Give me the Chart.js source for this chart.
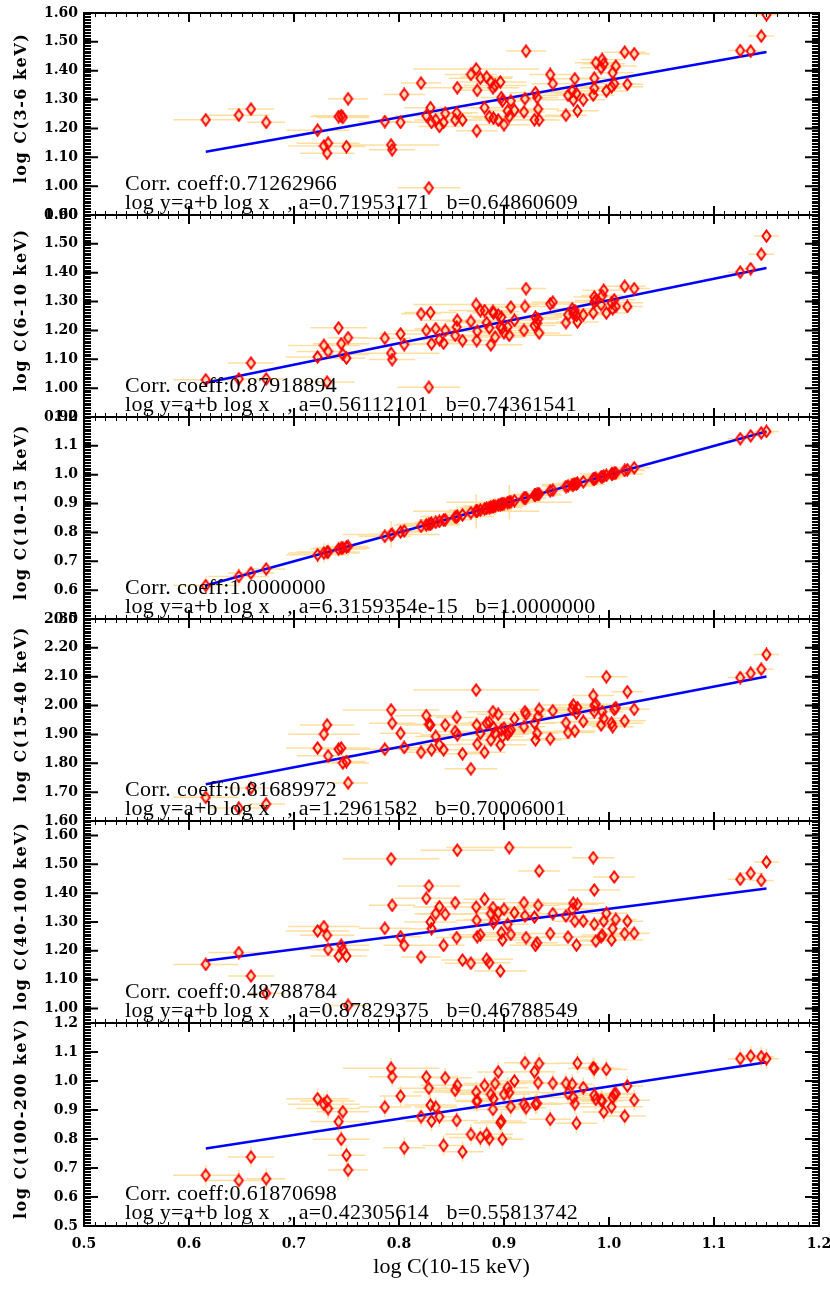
<!DOCTYPE html>
<html>
<head>
<meta charset="utf-8">
<script src="https://cdn.jsdelivr.net/npm/chart.js@4.4.0/dist/chart.umd.min.js"></script>
<style>
  body { margin: 0; background: #fff; }
  #wrap { position: relative; width: 830px; height: 1291px; overflow: hidden; }
  #wrap canvas { position: absolute; left: 0; }
</style>
</head>
<body>
<div id="wrap"></div>
<script>
// x = log C(10-15 keV), shared by all six panels
const xVals = [0.616,0.6475,0.659,0.6735,0.7225,0.7285,0.7315,0.7325,0.7425,0.745,0.7465,0.75,0.7515,
  0.7865,0.7925,0.7935,0.8015,0.805,
  0.821,0.826,0.8285,0.83,0.831,0.835,0.8385,0.8425,0.844,0.8535,0.855,0.8555,0.8605,
  0.8685,0.8735,0.874,0.8745,0.8775,0.8815,0.8835,0.886,0.8875,0.8895,0.89,0.8915,0.8945,0.8965,0.8975,0.8985,0.9,0.9035,0.905,0.9065,0.91,
  0.919,0.92,0.921,0.929,0.93,0.9315,0.9325,0.9335,
  0.944,0.9465,
  0.959,0.961,0.965,0.966,0.9675,0.969,0.97,0.9755,
  0.985,0.986,0.986,0.9875,0.9925,0.9935,0.995,0.9975,1.0025,1.0035,1.005,1.0065,
  1.015,1.0175,1.024,
  1.125,1.135,1.145,1.15];

const xErr = [0.031,0.029,0.022,0.018,0.03,0.034,0.026,0.03,0.027,0.027,0.025,0.018,0.019,
  0.025,0.046,0.022,0.02,0.02,
  0.019,0.03,0.03,0.025,0.025,0.02,0.02,0.02,0.025,0.02,0.02,0.035,0.02,
  0.025,0.06,0.02,0.02,0.03,0.02,0.025,0.02,0.03,0.025,0.02,0.03,0.02,0.025,0.02,0.02,0.025,0.02,0.06,0.02,0.025,
  0.02,0.02,0.019,0.02,0.025,0.02,0.02,0.02,
  0.02,0.02,
  0.02,0.025,0.02,0.03,0.02,0.02,0.02,0.02,
  0.02,0.025,0.02,0.02,0.02,0.02,0.02,0.02,0.03,0.02,0.02,0.02,
  0.02,0.015,0.015,
  0.012,0.012,0.012,0.012];

const y3to6 = [1.230,1.246,1.267,1.221,1.194,1.139,1.114,1.149,1.241,1.244,1.238,1.137,1.303,
  1.224,1.143,1.126,1.221,1.318,
  1.357,1.244,0.994,1.272,1.221,1.229,1.207,1.221,1.252,1.229,1.254,1.341,1.229,
  1.387,1.406,1.192,1.332,1.374,1.272,1.378,1.241,1.361,1.341,1.236,1.349,1.229,1.361,1.307,1.295,1.213,1.261,1.241,1.295,1.263,
  1.257,1.303,1.468,1.230,1.324,1.307,1.267,1.229,
  1.387,1.355,
  1.246,1.315,1.330,1.299,1.372,1.321,1.261,1.299,
  1.316,1.339,1.374,1.428,1.410,1.439,1.424,1.330,1.344,1.393,1.355,1.416,
  1.464,1.353,1.459,
  1.470,1.468,1.520,1.594];

const y6to10 = [1.029,1.032,1.087,1.032,1.108,1.148,1.021,1.127,1.209,1.154,1.117,1.104,1.175,
  1.173,1.121,1.099,1.188,1.151,
  1.258,1.200,1.003,1.262,1.154,1.206,1.168,1.156,1.200,1.183,1.212,1.235,1.165,
  1.231,1.290,1.165,1.197,1.269,1.269,1.227,1.209,1.150,1.266,1.260,1.177,1.254,1.212,1.246,1.208,1.192,1.212,1.183,1.281,1.235,
  1.200,1.283,1.345,1.217,1.246,1.225,1.240,1.191,
  1.292,1.298,
  1.227,1.254,1.275,1.258,1.269,1.252,1.229,1.254,
  1.261,1.298,1.316,1.304,1.289,1.321,1.339,1.260,1.296,1.275,1.306,1.283,
  1.353,1.283,1.345,
  1.402,1.414,1.464,1.527];

const y10to15 = [0.616,0.6475,0.659,0.6735,0.7225,0.7285,0.7315,0.7325,0.7425,0.745,0.7465,0.75,0.7515,
  0.7865,0.7925,0.7935,0.8015,0.805,
  0.821,0.826,0.8285,0.83,0.831,0.835,0.8385,0.8425,0.844,0.8535,0.855,0.8555,0.8605,
  0.8685,0.8735,0.874,0.8745,0.8775,0.8815,0.8835,0.886,0.8875,0.8895,0.89,0.8915,0.8945,0.8965,0.8975,0.8985,0.9,0.9035,0.905,0.9065,0.91,
  0.919,0.92,0.921,0.929,0.93,0.9315,0.9325,0.9335,
  0.944,0.9465,
  0.959,0.961,0.965,0.966,0.9675,0.969,0.97,0.9755,
  0.985,0.986,0.986,0.9875,0.9925,0.9935,0.995,0.9975,1.0025,1.0035,1.005,1.0065,
  1.015,1.0175,1.024,
  1.125,1.135,1.145,1.15];

const y15to40 = [1.682,1.645,1.714,1.659,1.853,1.901,1.933,1.826,1.849,1.853,1.801,1.806,1.732,
  1.849,1.985,1.939,1.904,1.855,
  1.838,1.965,1.935,1.933,1.847,1.893,1.864,1.847,1.933,1.910,1.959,1.899,1.833,
  1.781,2.054,1.933,1.866,1.904,1.838,1.939,1.942,1.881,1.979,1.924,1.904,1.970,1.864,1.916,1.893,1.922,1.901,1.910,1.916,1.954,
  1.927,1.979,1.970,1.939,1.881,1.904,1.962,1.987,
  1.885,1.982,
  1.941,1.907,1.987,2.002,1.912,1.974,1.993,1.945,
  2.035,2.000,1.979,2.005,1.933,1.979,1.956,2.100,1.939,1.927,1.987,1.993,
  1.947,2.048,1.987,
  2.097,2.112,2.126,2.177];

const y40to100 = [1.153,1.194,1.113,1.053,1.269,1.284,1.254,1.205,1.182,1.219,1.203,1.182,1.011,
  1.278,1.519,1.358,1.249,1.219,
  1.179,1.382,1.425,1.300,1.277,1.329,1.353,1.219,1.327,1.367,1.246,1.549,1.168,
  1.157,1.352,1.306,1.249,1.256,1.379,1.171,1.159,1.329,1.350,1.298,1.309,1.332,1.130,1.263,1.238,1.344,1.292,1.558,1.257,1.332,
  1.367,1.321,1.246,1.317,1.219,1.228,1.358,1.477,
  1.260,1.329,
  1.321,1.248,1.344,1.365,1.303,1.220,1.361,1.303,
  1.523,1.411,1.292,1.234,1.249,1.255,1.303,1.330,1.238,1.277,1.456,1.309,
  1.260,1.303,1.261,
  1.448,1.469,1.444,1.508];

const y100to200 = [0.675,0.657,0.738,0.663,0.939,0.920,0.931,0.905,0.860,0.799,0.894,0.744,0.693,
  0.910,1.044,1.015,0.948,0.770,
  0.877,1.014,0.975,0.917,0.862,0.910,0.877,0.778,1.011,0.968,0.864,0.985,0.756,
  0.816,0.962,0.929,0.933,0.805,0.985,0.816,0.801,0.954,0.902,0.939,0.991,1.031,0.856,0.862,0.799,0.954,0.977,0.960,0.911,1.000,
  0.920,1.063,0.908,1.032,0.920,0.923,0.994,1.060,
  0.868,0.992,
  0.992,0.957,0.989,0.943,0.922,0.854,1.061,0.977,
  1.046,1.043,0.951,0.937,0.934,0.931,0.893,1.040,0.911,0.943,0.954,0.957,
  0.879,0.983,0.934,
  1.077,1.086,1.084,1.077];

const panelSeries = [y3to6, y6to10, y10to15, y15to40, y40to100, y100to200];
const panelTitles = ['log C(3-6 keV)', 'log C(6-10 keV)', 'log C(10-15 keV)', 'log C(15-40 keV)', 'log C(40-100 keV)', 'log C(100-200 keV)'];
const yMins = [0.9, 0.9, 0.5, 1.6, 0.95, 0.5];
const yMaxs = [1.6, 1.6, 1.2, 2.3, 1.65, 1.2];
const yDigits = [2, 2, 1, 2, 2, 1];
const yErrs = [0.025, 0.02, 0.03, 0.025, 0.02, 0.035];
const corrCoeffs = ['0.71262966', '0.87918894', '1.0000000', '0.81689972', '0.48788784', '0.61870698'];
const fitA = ['0.71953171', '0.56112101', '6.3159354e-15', '1.2961582', '0.87829375', '0.42305614'];
const fitB = ['0.64860609', '0.74361541', '1.0000000', '0.70006001', '0.46788549', '0.55813742'];
const fitX = [0.616, 1.15];
const fitStartY = [1.119, 1.019, 0.616, 1.727, 1.166, 0.767];
const fitEndY = [1.465, 1.416, 1.150, 2.101, 1.416, 1.065];
const xTitle = 'log C(10-15 keV)';

// page layout
const panelEdges = [13, 215, 417, 619, 821, 1023, 1226];
const PAD = 14;
const tickFont = { family: 'DejaVu Serif', size: 14, weight: 'bold' };
const wrap = document.getElementById('wrap');

// open red diamond, a bit taller than wide
const diamond = document.createElement('canvas');
diamond.width = 11;
diamond.height = 14;
const dctx = diamond.getContext('2d');
dctx.strokeStyle = '#ff0000';
dctx.lineWidth = 2;
dctx.beginPath();
dctx.moveTo(5.5, 1.5);
dctx.lineTo(9.5, 7);
dctx.lineTo(5.5, 12.5);
dctx.lineTo(1.5, 7);
dctx.closePath();
dctx.stroke();

const errorBars = {
  id: 'errorBars',
  beforeDatasetsDraw(chart, args, opts) {
    const { ctx, chartArea: a, scales: { x, y } } = chart;
    const ys = panelSeries[opts.panel];
    const ye = yErrs[opts.panel];
    ctx.save();
    ctx.beginPath();
    ctx.rect(a.left, a.top, a.width, a.height);
    ctx.clip();
    ctx.strokeStyle = 'rgba(255, 196, 80, 0.55)';
    ctx.lineWidth = 1.5;
    ctx.beginPath();
    xVals.forEach((xv, i) => {
      const py = y.getPixelForValue(ys[i]);
      const px = x.getPixelForValue(xv);
      const yerr = opts.panel === 2 ? xErr[i] : ye;
      ctx.moveTo(x.getPixelForValue(xv - xErr[i]), py);
      ctx.lineTo(x.getPixelForValue(xv + xErr[i]), py);
      ctx.moveTo(px, y.getPixelForValue(ys[i] - yerr));
      ctx.lineTo(px, y.getPixelForValue(ys[i] + yerr));
    });
    ctx.stroke();
    ctx.restore();
  }
};

const frame = {
  id: 'frame',
  afterDatasetsDraw(chart, args, opts) {
    const { ctx, chartArea: a, scales: { x, y } } = chart;
    const i = opts.panel;
    ctx.save();
    ctx.strokeStyle = '#000';

    // dense minor ticks on both y axes
    ctx.lineWidth = 1;
    ctx.beginPath();
    for (let k = 0; ; k++) {
      const v = y.min + k * 0.005;
      if (v > y.max + 1e-9) break;
      const py = Math.round(y.getPixelForValue(v)) + 0.5;
      ctx.moveTo(a.left, py); ctx.lineTo(a.left + 7, py);
      ctx.moveTo(a.right, py); ctx.lineTo(a.right - 7, py);
    }
    // x minor ticks top and bottom
    for (let k = 0; ; k++) {
      const v = x.min + k * 0.01;
      if (v > x.max + 1e-9) break;
      const px = Math.round(x.getPixelForValue(v)) + 0.5;
      ctx.moveTo(px, a.top); ctx.lineTo(px, a.top + 4);
      ctx.moveTo(px, a.bottom); ctx.lineTo(px, a.bottom - 4);
    }
    ctx.stroke();

    // major ticks
    ctx.lineWidth = 2;
    ctx.beginPath();
    y.ticks.forEach(t => {
      const py = y.getPixelForValue(t.value);
      ctx.moveTo(a.left, py); ctx.lineTo(a.left + 14, py);
      ctx.moveTo(a.right, py); ctx.lineTo(a.right - 14, py);
    });
    for (let k = 0; ; k++) {
      const v = x.min + k * 0.1;
      if (v > x.max + 1e-9) break;
      const px = x.getPixelForValue(v);
      ctx.moveTo(px, a.top); ctx.lineTo(px, a.top + 9);
      ctx.moveTo(px, a.bottom); ctx.lineTo(px, a.bottom - 9);
    }
    ctx.stroke();
    ctx.strokeRect(a.left, a.top, a.width, a.height);

    // fit info
    ctx.fillStyle = '#000';
    ctx.font = '22px "Liberation Serif"';
    ctx.letterSpacing = '0.3px';
    ctx.textAlign = 'left';
    ctx.textBaseline = 'middle';
    ctx.fillText('Corr. coeff:' + corrCoeffs[i], a.left + 41, a.top + 171);
    ctx.fillText('log y=a+b log x   , a=' + fitA[i] + '   b=' + fitB[i], a.left + 41, a.top + 190);

    // y title
    ctx.translate(22, (a.top + a.bottom) / 2 - 6);
    ctx.rotate(-Math.PI / 2);
    ctx.font = 'bold 16px "DejaVu Serif"';
    ctx.letterSpacing = '1.5px';
    ctx.textAlign = 'center';
    ctx.fillText(panelTitles[i], 0, 0);
    ctx.restore();
  }
};

panelSeries.forEach((ys, i) => {
  const last = i === panelSeries.length - 1;
  const h = panelEdges[i + 1] - panelEdges[i];
  const extra = last ? 68 : PAD;
  const canvas = document.createElement('canvas');
  canvas.width = 830;
  canvas.height = PAD + h + extra;
  canvas.style.top = (panelEdges[i] - PAD) + 'px';
  wrap.appendChild(canvas);

  new Chart(canvas, {
    type: 'scatter',
    data: {
      datasets: [{
        data: xVals.map((x, k) => ({ x: x, y: ys[k] })),
        pointStyle: diamond,
        pointRadius: 5,
        order: 1
      }, {
        type: 'line',
        data: [{ x: fitX[0], y: fitStartY[i] }, { x: fitX[1], y: fitEndY[i] }],
        borderColor: '#0000ff',
        borderWidth: 2.5,
        pointRadius: 0,
        order: 2
      }]
    },
    options: {
      responsive: false,
      animation: false,
      events: [],
      layout: { padding: { top: PAD, bottom: last ? 14 : PAD, left: 0, right: 11 } },
      plugins: {
        legend: { display: false },
        tooltip: { enabled: false },
        errorBars: { panel: i },
        frame: { panel: i }
      },
      scales: {
        x: {
          type: 'linear',
          min: 0.5,
          max: 1.2,
          display: last,
          grid: { display: false, drawTicks: false },
          border: { display: false },
          ticks: {
            stepSize: 0.1,
            color: '#000',
            padding: 10,
            font: tickFont,
            callback: v => v.toFixed(1)
          },
          title: {
            display: last,
            text: xTitle,
            color: '#000',
            padding: 0,
            font: { family: 'Liberation Serif', size: 22 }
          },
          afterFit(s) {
            if (!last) return;
            s.height = 54; s.paddingLeft = 0; s.paddingRight = 0;
          }
        },
        y: {
          min: yMins[i],
          max: yMaxs[i],
          grid: { display: false, drawTicks: false },
          border: { display: false },
          ticks: {
            stepSize: 0.1,
            includeBounds: false,
            color: '#000',
            padding: 6,
            font: tickFont,
            callback: v => v.toFixed(yDigits[i])
          },
          // major ticks on every tenth, also when the range starts between them
          afterBuildTicks(s) {
            const out = [];
            for (let v = Math.ceil(s.min * 10 - 1e-6); v <= Math.floor(s.max * 10 + 1e-6); v++) out.push({ value: v / 10 });
            s.ticks = out;
          },
          afterFit(s) { s.width = 84; s.paddingTop = 0; s.paddingBottom = 0; }
        }
      }
    },
    plugins: [errorBars, frame]
  });
});
</script>
</body>
</html>
